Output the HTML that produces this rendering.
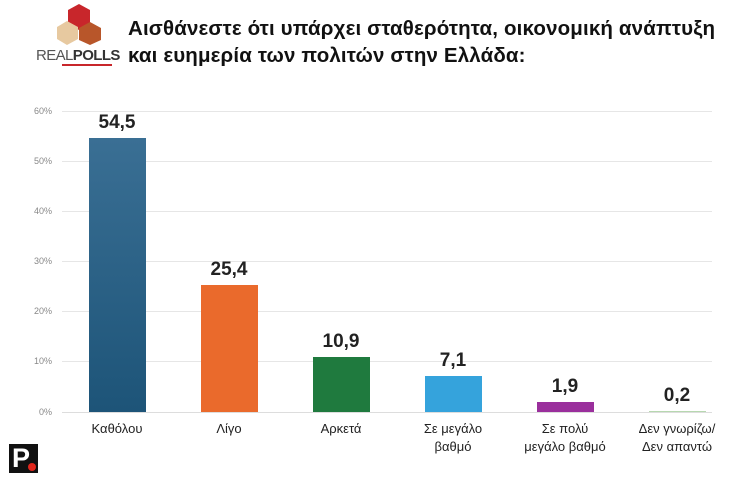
<!DOCTYPE html>
<html><head><meta charset="utf-8"><style>
body{margin:0;width:750px;height:485px;background:#fff;font-family:"Liberation Sans",sans-serif;position:relative;overflow:hidden}
.a{position:absolute}
.t{left:128px;top:15px;font-size:20.5px;font-weight:bold;color:#111;line-height:27px;letter-spacing:0.15px;white-space:nowrap}
.yl{font-size:9px;color:#888;width:30px;text-align:right;left:22px}
.g{left:62px;width:650px;height:1px;background:#e6e6e6}
.bar{width:57px}
.v{font-size:19px;font-weight:bold;color:#222;width:90px;text-align:center}
.x{font-size:13px;color:#222;width:112px;text-align:center;line-height:18px;top:420px}
</style></head><body>
<svg class="a" style="left:52px;top:4px" width="56" height="42">
<polygon points="16,6 27,0 38,6 38,20 27,26 16,20" fill="#c8262b"/>
<polygon points="5,23 15,17 26,23 26,35 15,41 5,35" fill="#e7c9a0"/>
<polygon points="27,24 38,18 49,24 49,36 38,41 27,36" fill="#b8562a"/>
</svg>
<div class="a" style="left:36px;top:47px;font-size:15px;color:#555;letter-spacing:-0.6px">REAL<b style="color:#333">POLLS</b></div>
<div class="a" style="left:62px;top:64px;width:50px;height:2px;background:#c8262b"></div>
<div class="a t">Αισθάνεστε ότι υπάρχει σταθερότητα, οικονομική ανάπτυξη<br>και ευημερία των πολιτών στην Ελλάδα:</div>
<div class="a yl" style="top:106px">60%</div><div class="a g" style="top:111px"></div>
<div class="a yl" style="top:156px">50%</div><div class="a g" style="top:161px"></div>
<div class="a yl" style="top:206px">40%</div><div class="a g" style="top:211px"></div>
<div class="a yl" style="top:256px">30%</div><div class="a g" style="top:261px"></div>
<div class="a yl" style="top:306px">20%</div><div class="a g" style="top:311px"></div>
<div class="a yl" style="top:356px">10%</div><div class="a g" style="top:361px"></div>
<div class="a yl" style="top:407px">0%</div><div class="a g" style="top:412px;background:#ddd"></div>
<div class="a bar" style="left:89px;top:138px;height:274px;background:linear-gradient(#3a6f94,#1d5478)"></div>
<div class="a bar" style="left:201px;top:285px;height:127px;background:#ea6a2c"></div>
<div class="a bar" style="left:313px;top:357px;height:55px;background:#1f7a3e"></div>
<div class="a bar" style="left:425px;top:376px;height:36px;background:#35a3dc"></div>
<div class="a bar" style="left:537px;top:402px;height:10px;background:#9a2f9c"></div>
<div class="a bar" style="left:649px;top:411px;height:1px;background:#b7d8b0"></div>
<div class="a v" style="left:72px;top:112px">54,5</div>
<div class="a v" style="left:184px;top:259px">25,4</div>
<div class="a v" style="left:296px;top:331px">10,9</div>
<div class="a v" style="left:408px;top:350px">7,1</div>
<div class="a v" style="left:520px;top:376px">1,9</div>
<div class="a v" style="left:632px;top:385px">0,2</div>
<div class="a x" style="left:61px">Καθόλου</div>
<div class="a x" style="left:173px">Λίγο</div>
<div class="a x" style="left:285px">Αρκετά</div>
<div class="a x" style="left:397px">Σε μεγάλο<br>βαθμό</div>
<div class="a x" style="left:509px">Σε πολύ<br>μεγάλο βαθμό</div>
<div class="a x" style="left:621px">Δεν γνωρίζω/<br>Δεν απαντώ</div>
<div class="a" style="left:9px;top:444px;width:29px;height:29px;background:#111"></div>
<div class="a" style="left:12px;top:443px;font-size:27px;font-weight:bold;color:#fff">P</div>
<div class="a" style="left:28px;top:463px;width:8px;height:8px;border-radius:50%;background:#e1261c"></div>
</body></html>
